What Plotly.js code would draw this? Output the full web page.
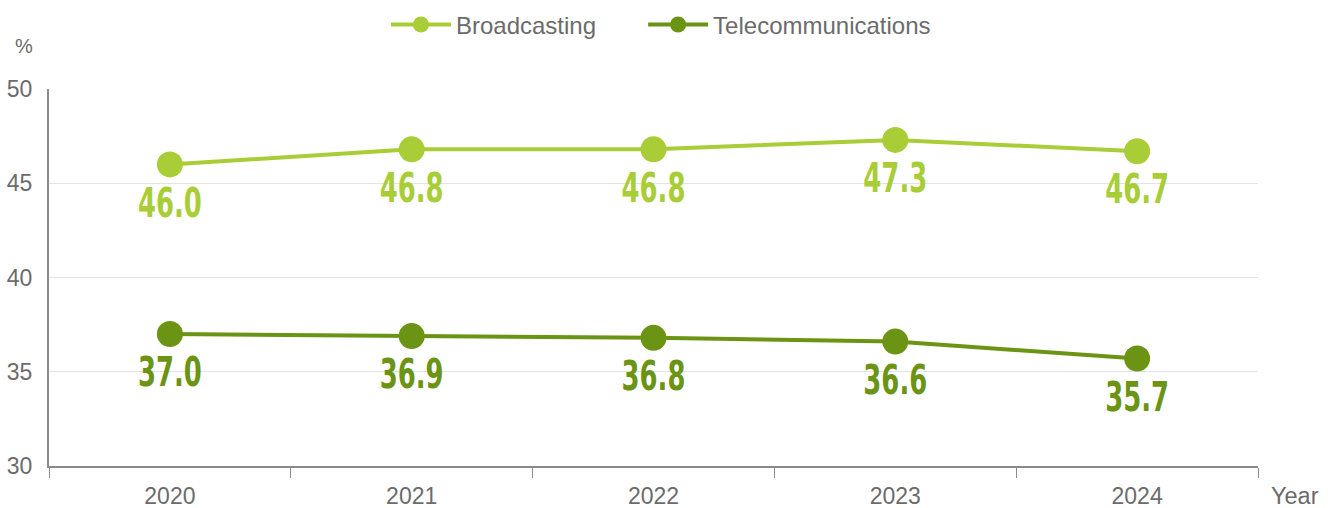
<!DOCTYPE html>
<html><head><meta charset="utf-8">
<script src="https://cdn.plot.ly/plotly-3.0.1.min.js"></script>
<style>html,body{margin:0;padding:0;background:#fff}#c{width:1333px;height:508px}</style>
</head><body><div id="c"></div>
<script>
const years = ['2020','2021','2022','2023','2024'];
const broadcasting = [46.0, 46.8, 46.8, 47.3, 46.7];
const telecom = [37.0, 36.9, 36.8, 36.6, 35.7];
const lightGreen = '#a8cd36';
const darkGreen = '#6b9414';
const labelFont = {family: '"DejaVu Sans Condensed", "DejaVu Sans", sans-serif', size: 40, weight: 'bold'};

function tr(name, y, color, legend) {
  return {
    type: 'scatter', mode: 'lines+markers+text', name: name, legend: legend,
    x: years, y: y,
    text: y.map(v => v.toFixed(1)),
    textposition: 'bottom center',
    textfont: Object.assign({color: color}, labelFont),
    line: {color: color, width: 4},
    marker: {color: color, size: 26},
    cliponaxis: false
  };
}

const data = [tr('Broadcasting', broadcasting, lightGreen, 'legend'), tr('Telecommunications', telecom, darkGreen, 'legend2')];

const legBase = {orientation: 'h', y: 1.17, yanchor: 'middle', xanchor: 'left', font: {size: 24, color: '#6b6b6b'}, itemwidth: 60, bgcolor: 'rgba(0,0,0,0)'};

const layout = {
  width: 1333, height: 508,
  margin: {l: 49, r: 75, t: 89, b: 42, autoexpand: false},
  paper_bgcolor: '#fff', plot_bgcolor: '#fff',
  font: {family: 'Arial, "Liberation Sans", sans-serif', color: '#6b6b6b', size: 23},
  showlegend: true,
  legend: Object.assign({x: 0.2787}, legBase),
  legend2: Object.assign({x: 0.4914}, legBase),
  xaxis: {
    type: 'category', range: [-0.5, 4.5], showgrid: false, showline: true, linecolor: '#8a8a8a', linewidth: 2,
    ticks: 'outside', tickson: 'boundaries', ticklen: 10, tickcolor: '#8a8a8a', tickwidth: 1,
    tickfont: {size: 23, color: '#6b6b6b'}, zeroline: false, ticklabelstandoff: 8
  },
  yaxis: {
    range: [30, 50], dtick: 5, showgrid: true, gridcolor: '#e3e3e3', gridwidth: 1,
    showline: true, linecolor: '#8a8a8a', linewidth: 2, zeroline: false,
    ticks: '', tickfont: {size: 23, color: '#6b6b6b'}, ticklabelstandoff: 10
  },
  annotations: [
    {text: '%', xref: 'paper', yref: 'paper', x: -0.021, y: 1.113, xanchor: 'center', yanchor: 'middle', showarrow: false, font: {size: 20, color: '#6b6b6b'}},
    {text: 'Year', xref: 'paper', yref: 'paper', x: 1.031, y: -0.08, xanchor: 'center', yanchor: 'middle', showarrow: false, font: {size: 23.5, color: '#6b6b6b'}}
  ]
};

Plotly.newPlot('c', data, layout, {displayModeBar: false, staticPlot: true}).then(function(){
  document.querySelectorAll('.textpoint text').forEach(function(t){
    const x = parseFloat(t.getAttribute('x')), y = parseFloat(t.getAttribute('y'));
    t.setAttribute('transform', 'translate(' + x + ',' + (y + 5) + ') scale(0.72,1) translate(' + (-x) + ',' + (-y) + ')');
  });
});
</script></body></html>
